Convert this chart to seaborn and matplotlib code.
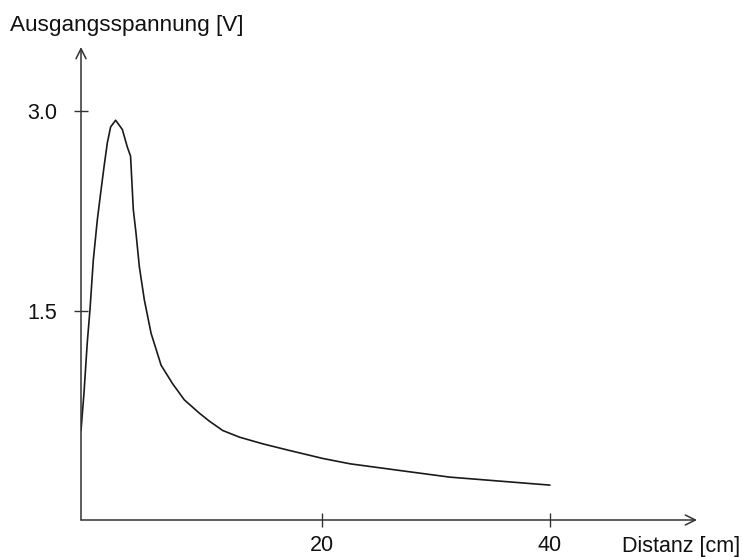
import matplotlib
matplotlib.use("Agg")
import matplotlib.pyplot as plt
import seaborn as sns

# values (distance in cm, output voltage in V)
distanz = [-1.13, -0.87, -0.58, -0.34, -0.05, 0.30, 0.59, 0.89, 1.18, 1.47, 1.91,
           2.50, 2.93, 3.22, 3.31, 3.46, 3.70, 3.99, 4.43, 5.02, 5.90, 6.92, 7.94,
           9.26, 10.14, 11.31, 12.78, 14.82, 17.17, 20.10, 22.48, 26.83, 31.23,
           35.62, 40.02]
spannung = [0.60, 0.88, 1.26, 1.51, 1.88, 2.18, 2.38, 2.58, 2.76, 2.88, 2.93,
            2.86, 2.73, 2.66, 2.51, 2.26, 2.08, 1.83, 1.58, 1.33, 1.09, 0.95, 0.83,
            0.73, 0.67, 0.60, 0.55, 0.50, 0.45, 0.39, 0.35, 0.30, 0.25,
            0.22, 0.19]
x_ticks = [20, 40]
y_ticks = [1.5, 3.0]
y_ticklabels = ["1.5", "3.0"]

sns.set_style("white")
plt.rcParams['font.family'] = ['Liberation Sans', 'DejaVu Sans']

fig = plt.figure(figsize=(7.46, 5.57), dpi=100)
W, H = 746, 557
# axes spans from the origin corner to the arrow tips
ax = fig.add_axes([81 / W, (H - 520) / H, (697 - 81) / W, (520 - 47) / H])

sns.lineplot(x=distanz, y=spannung, ax=ax, color='#1a1a1a', linewidth=1.2, sort=False)

ax.set_xlim(-1.13, 52.93)
ax.set_ylim(-0.072, 3.48)

for s in ax.spines.values():
    s.set_visible(False)

# axes with arrow heads
arrow = dict(arrowstyle='->', lw=1.1, color='#333333', mutation_scale=18, shrinkA=0, shrinkB=0)
ax.annotate('', xy=(1, 0), xytext=(0, 0), xycoords='axes fraction', arrowprops=arrow, annotation_clip=False)
ax.annotate('', xy=(0, 1), xytext=(0, 0), xycoords='axes fraction', arrowprops=arrow, annotation_clip=False)

ax.set_xticks(x_ticks)
ax.set_xticklabels([str(t) for t in x_ticks])
ax.set_yticks(y_ticks)
ax.set_yticklabels(y_ticklabels)
ax.tick_params(axis='both', bottom=True, left=True, direction='inout', length=10, width=1.0,
               color='#333333', labelcolor='#111111', labelsize=15.5)
ax.tick_params(axis='x', pad=6)
ax.tick_params(axis='y', pad=12)
ax.grid(False)
ax.set_xlabel('')
ax.set_ylabel('')

fig.text(10 / W, 1 - 31 / H, 'Ausgangsspannung [V]', fontsize=16.2, va='baseline', ha='left', color='#111111')
fig.text(622 / W, 1 - 552 / H, 'Distanz [cm]', fontsize=15.5, va='baseline', ha='left', color='#111111')

fig.savefig('out.png', dpi=100, facecolor='white')
